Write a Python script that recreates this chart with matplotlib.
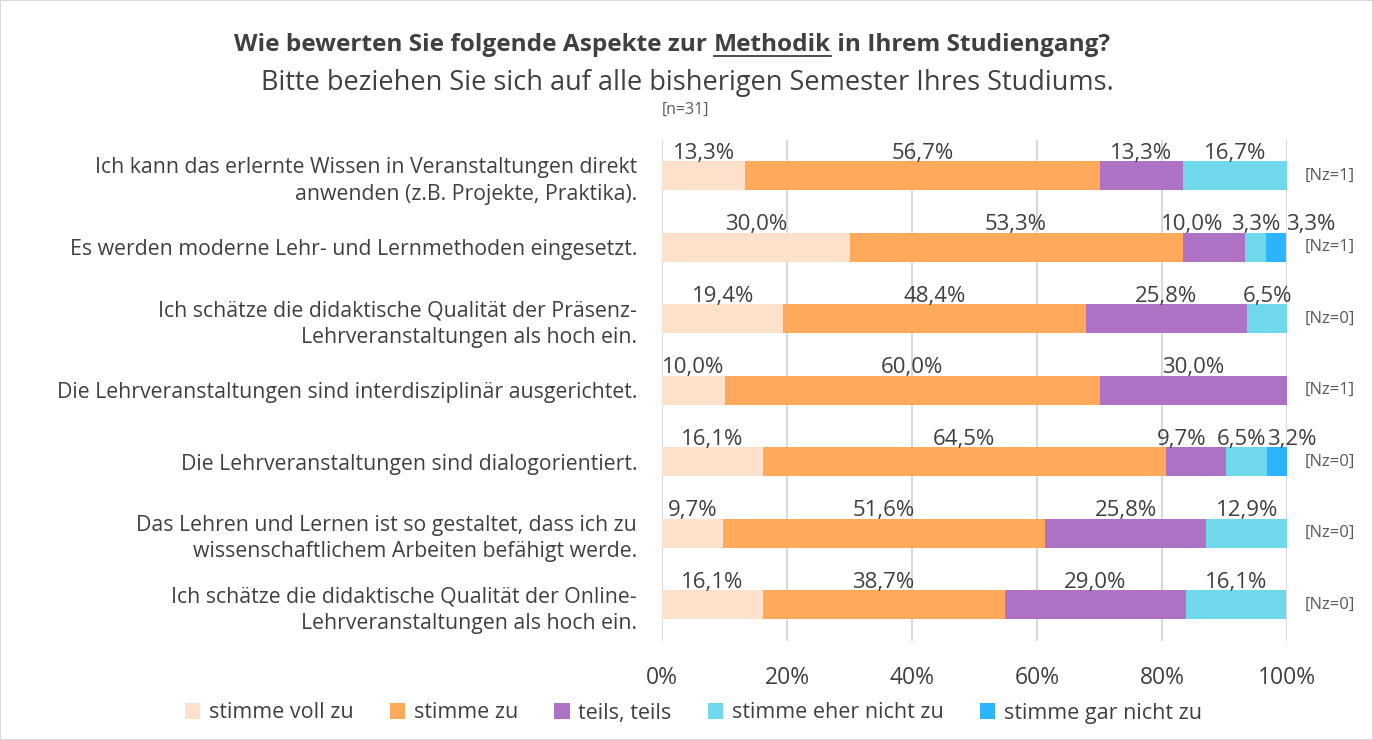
import matplotlib.pyplot as plt
import numpy as np
from matplotlib.patches import Rectangle
from matplotlib.lines import Line2D

plt.rcParams['font.family'] = ['Open Sans', 'DejaVu Sans']

# Survey data (percent per answer category)
questions = [
    "Ich kann das erlernte Wissen in Veranstaltungen direkt\nanwenden (z.B. Projekte, Praktika).",
    "Es werden moderne Lehr- und Lernmethoden eingesetzt.",
    "Ich schätze die didaktische Qualität der Präsenz-\nLehrveranstaltungen als hoch ein.",
    "Die Lehrveranstaltungen sind interdisziplinär ausgerichtet.",
    "Die Lehrveranstaltungen sind dialogorientiert.",
    "Das Lehren und Lernen ist so gestaltet, dass ich zu\nwissenschaftlichem Arbeiten befähigt werde.",
    "Ich schätze die didaktische Qualität der Online-\nLehrveranstaltungen als hoch ein.",
]
answers = ["stimme voll zu", "stimme zu", "teils, teils",
           "stimme eher nicht zu", "stimme gar nicht zu"]
voll_zu = [13.3, 30.0, 19.4, 10.0, 16.1, 9.7, 16.1]
zu = [56.7, 53.3, 48.4, 60.0, 64.5, 51.6, 38.7]
teils = [13.3, 10.0, 25.8, 30.0, 9.7, 25.8, 29.0]
eher_nicht = [16.7, 3.3, 6.5, 0.0, 6.5, 12.9, 16.1]
gar_nicht = [0.0, 3.3, 0.0, 0.0, 3.2, 0.0, 0.0]
nz = [1, 1, 0, 1, 0, 0, 0]
n_total = 31

colors = ['#FDE1CA', '#FFA95B', '#AD72C4', '#6FD8EA', '#2DB4FF']
txt = '#404040'

# nudge crowded value labels sideways (row, series) -> pixels
label_shift = {(1, 2): -22, (1, 4): 35, (4, 2): -14, (4, 3): -5, (4, 4): 15}

fig = plt.figure(figsize=(13.73, 7.4), dpi=100)
ax = fig.add_axes([0.4822, 0.1344, 0.4552, 0.6764])

series = [voll_zu, zu, teils, eher_nicht, gar_nicht]
y = np.arange(len(questions))
left = np.zeros(len(questions))
for si, (vals, col, name) in enumerate(zip(series, colors, answers)):
    vals = np.array(vals)
    ax.barh(y, vals, left=left, height=0.41, color=col, label=name, zorder=2)
    for yi, l, v in zip(y, left, vals):
        if v > 0:
            ax.annotate(f"{v:.1f}%".replace('.', ','), (l + v / 2, yi - 0.17),
                        xytext=(label_shift.get((yi, si), 0), 0),
                        textcoords='offset pixels', ha='center', va='bottom',
                        fontsize=16, color=txt, zorder=3)
    left += vals

for yi, n in zip(y, nz):
    ax.text(102.8, yi, f"[Nz={n}]", ha='left', va='center', fontsize=12,
            color='#595959')

ax.set_xlim(0, 100)
ax.set_ylim(len(questions) - 0.5, -0.5)
ax.set_xticks(np.arange(0, 101, 20))
ax.set_xticklabels([f"{t}%" for t in range(0, 101, 20)], fontsize=16.5, color=txt)
ax.set_yticks(y)
ax.set_yticklabels(questions, fontsize=15.3, color=txt, linespacing=1.35)
ax.tick_params(length=0, pad=18)
ax.tick_params(axis='x', pad=18)
ax.grid(axis='x', color='#D9D9D9', linewidth=1.5, zorder=0)
ax.set_axisbelow(True)
for s in ax.spines.values():
    s.set_visible(False)

ax.text(0, -0.92, f"[n={n_total}]", ha='left', va='center', fontsize=11.5,
        color='#595959')

# Title with underlined word
renderer = fig.canvas.get_renderer()
parts = ["Wie bewerten Sie folgende Aspekte zur ", "Methodik", " in Ihrem Studiengang?"]
ty = 1 - 45 / 740
texts = [fig.text(0, ty, p, fontsize=17.6, fontweight='bold', color=txt,
                  va='center', ha='left') for p in parts]
widths = [t.get_window_extent(renderer).width for t in texts]
x0 = 672 - sum(widths) / 2
for t, w in zip(texts, widths):
    t.set_x(x0 / 1373)
    if t is texts[1]:
        bb = t.get_window_extent(renderer)
        uy = (bb.y0 + 1) / 740
        fig.add_artist(Line2D([x0 / 1373, (x0 + w) / 1373], [uy, uy],
                              color=txt, linewidth=1.3))
    x0 += w

fig.text(687 / 1373, 1 - 83 / 740,
         "Bitte beziehen Sie sich auf alle bisherigen Semester Ihres Studiums.",
         fontsize=19.5, color=txt, ha='center', va='center')

fig.legend(loc='center', bbox_to_anchor=(0.505, 1 - 713 / 740), ncol=5,
           frameon=False, fontsize=15.5, handlelength=0.7, handleheight=0.7,
           handletextpad=0.4, columnspacing=1.7, labelcolor=txt)

fig.add_artist(Rectangle((0, 0), 1, 1, transform=fig.transFigure, fill=False,
                         edgecolor='#D9D9D9', linewidth=1.5))

fig.savefig('out.png', dpi=100)
